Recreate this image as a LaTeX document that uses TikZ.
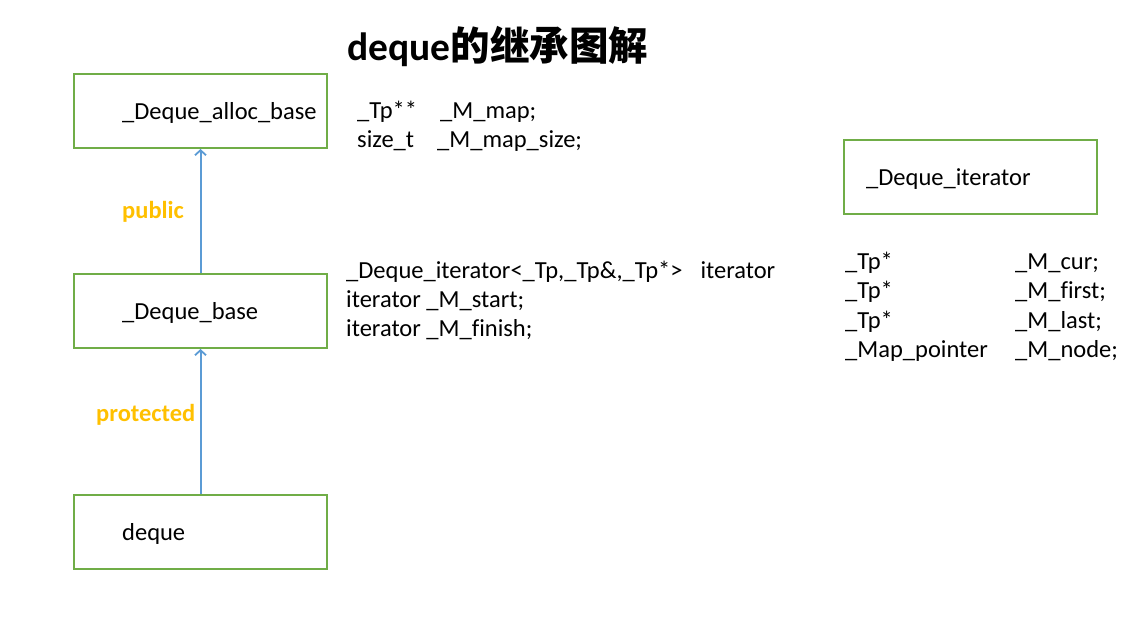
\documentclass[tikz,border=0pt]{standalone}
\usepackage{fontspec}
\setmainfont{Carlito}[Ligatures=NoCommon]
\newfontfamily\cjk{Noto Sans CJK SC}
\usetikzlibrary{arrows.meta}
\definecolor{boxgreen}{HTML}{70AD47}
\definecolor{arrowblue}{HTML}{5B9BD5}
\definecolor{labelorange}{HTML}{FFC000}
\begin{document}
\begin{tikzpicture}[x=1pt,y=-1pt,
  box/.style={draw=boxgreen,line width=2pt,minimum width=253pt,minimum height=74pt,inner sep=0pt},
  txt/.style={anchor=base west,inner sep=0pt,font=\fontsize{24.5}{29}\selectfont},
  lbl/.style={anchor=base west,inner sep=0pt,text=labelorange,font=\fontsize{24.5}{29}\selectfont\bfseries},
  inherit/.style={draw=arrowblue,line width=2pt,-{Straight Barb[length=5pt,width=11pt,line width=1.8pt]}}]
\useasboundingbox (0,0) rectangle (1128,635);
% title
\node[anchor=base west,inner sep=0pt,font=\fontsize{39.5}{44}\selectfont\bfseries] (title) at (347,60) {deque{\cjk\bfseries 的继承图解}};
% boxes
\node[box] (alloc) at (200.5,111) {};
\node[box] (base) at (200.5,311) {};
\node[box] (deque) at (200.5,532) {};
\node[box] (iter) at (970.5,177) {};
% box texts
\node[txt] (tAlloc) at (122,119) {\_Deque\_alloc\_base};
\node[txt] (tBase) at (122,319) {\_Deque\_base};
\node[txt] (tDeque) at (122,540) {deque};
\node[txt] (tIter) at (866,185) {\_Deque\_iterator};
% arrows
\draw[inherit] (base.north) -- (alloc.south);
\draw[inherit] (deque.north) -- (base.south);
\node[lbl] (public) at (122,218) {public};
\node[lbl] (protected) at (96,421) {protected};
% members of _Deque_alloc_base
\node[txt] (a1) at (357,118) {\_Tp**};
\node[txt] (a1b) at (440,118) {\_M\_map;};
\node[txt] (a2) at (357,147) {size\_t};
\node[txt] (a2b) at (437,147) {\_M\_map\_size;};
% members of _Deque_base
\node[txt] (b1) at (346,278) {\_Deque\_iterator<\_Tp,\_Tp\&,\_Tp*>\hspace{18pt}iterator};
\node[txt] (b2) at (346,307) {iterator \_M\_start;};
\node[txt] (b3) at (346,336) {iterator \_M\_finish;};
% members of _Deque_iterator
\node[txt] (c1) at (845,269) {\_Tp*};
\node[txt] (c1b) at (1015,269) {\_M\_cur;};
\node[txt] (c2) at (845,298) {\_Tp*};
\node[txt] (c2b) at (1015,298) {\_M\_first;};
\node[txt] (c3) at (845,328) {\_Tp*};
\node[txt] (c3b) at (1015,328) {\_M\_last;};
\node[txt] (c4) at (845,357) {\_Map\_pointer};
\node[txt] (c4b) at (1015,357) {\_M\_node;};
\end{tikzpicture}
\end{document}
